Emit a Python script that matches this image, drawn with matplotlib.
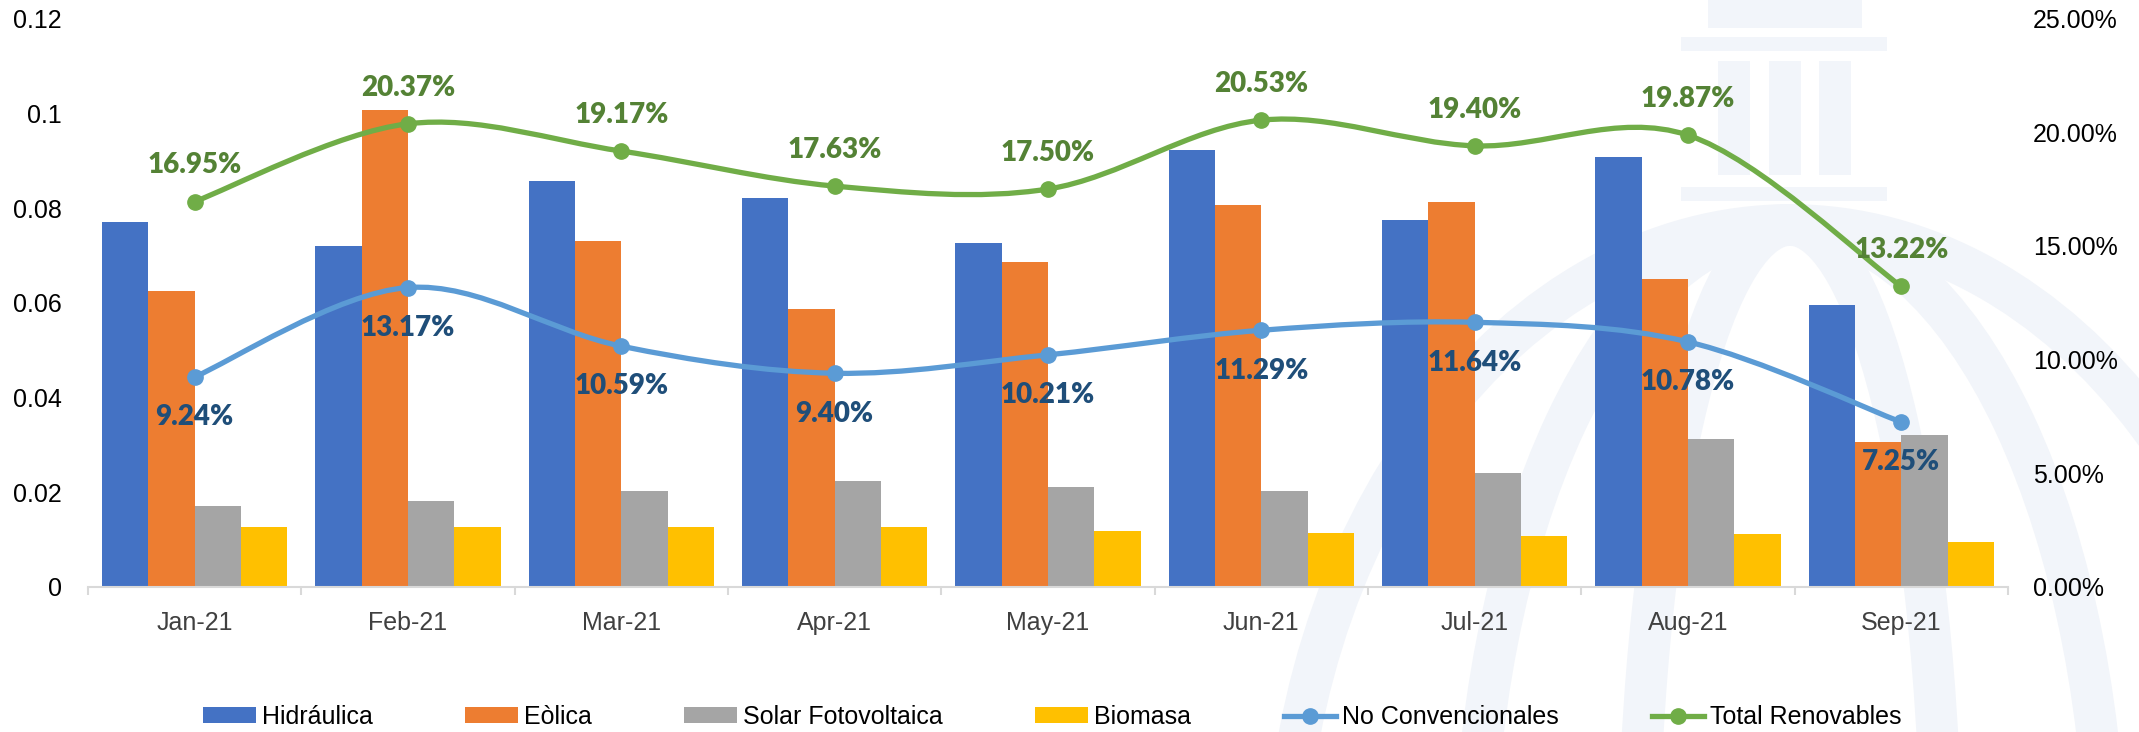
import numpy as np
import matplotlib
matplotlib.use("Agg")
import matplotlib.pyplot as plt
from matplotlib.path import Path
from matplotlib.patches import PathPatch, Rectangle, Arc
from matplotlib.lines import Line2D
from matplotlib.ticker import FixedLocator, PercentFormatter

# datos
meses = ['Jan-21', 'Feb-21', 'Mar-21', 'Apr-21', 'May-21', 'Jun-21', 'Jul-21', 'Aug-21', 'Sep-21']
hidraulica = [0.0770, 0.0719, 0.0857, 0.0821, 0.0727, 0.0923, 0.0775, 0.0908, 0.0596]
eolica = [0.0624, 0.1006, 0.0730, 0.0587, 0.0687, 0.0806, 0.0813, 0.0650, 0.0306]
solar = [0.0172, 0.0181, 0.0203, 0.0224, 0.0212, 0.0203, 0.0241, 0.0313, 0.0321]
biomasa = [0.0126, 0.0127, 0.0126, 0.0126, 0.0119, 0.0115, 0.0107, 0.0112, 0.0094]
no_conv = [9.24, 13.17, 10.59, 9.40, 10.21, 11.29, 11.64, 10.78, 7.25]
total_ren = [16.95, 20.37, 19.17, 17.63, 17.50, 20.53, 19.40, 19.87, 13.22]
left_ticks = [0, 0.02, 0.04, 0.06, 0.08, 0.1, 0.12]
left_labels = ['0', '0.02', '0.04', '0.06', '0.08', '0.1', '0.12']

W, H = 2139, 732
fig = plt.figure(figsize=(W / 100, H / 100), dpi=100)

# marca de agua (logo tenue al fondo)
bg = fig.add_axes([0, 0, 1, 1], zorder=0)
bg.set_xlim(0, W)
bg.set_ylim(H, 0)
bg.axis('off')
wm = '#F2F5FA'
bg.add_patch(Rectangle((1708, -5), 154, 33, color=wm, lw=0))
bg.add_patch(Rectangle((1681, 37), 206, 14, color=wm, lw=0))
for cx in [1718, 1769, 1819]:
    bg.add_patch(Rectangle((cx, 61), 32, 114, color=wm, lw=0))
bg.add_patch(Rectangle((1681, 187), 206, 14, color=wm, lw=0))
for w in [1012, 634, 304]:
    bg.add_patch(Arc((1790, 900), w, 1350, theta1=180, theta2=360, color=wm, lw=30))

# ejes principales
ax = fig.add_axes([88 / W, 1 - 587 / H, 1920 / W, (587 - 18.5) / H], zorder=1)
ax.patch.set_alpha(0)
x = np.arange(len(meses))
bw = 0.2175
series = [(hidraulica, '#4472C4', 'Hidráulica'), (eolica, '#ED7D31', 'Eòlica'),
          (solar, '#A5A5A5', 'Solar Fotovoltaica'), (biomasa, '#FFC000', 'Biomasa')]
handles = []
for i, (vals, col, lab) in enumerate(series):
    b = ax.bar(x + (i - 1.5) * bw, vals, bw, color=col, label=lab, zorder=2)
    handles.append(b)

ax.set_xlim(-0.5, len(meses) - 0.5)
ax.set_ylim(0, 0.12)
ax.yaxis.set_major_locator(FixedLocator(left_ticks))
ax.set_yticklabels(left_labels)
ax.set_xticks(x)
ax.set_xticklabels(meses)
ax.set_xticks(np.arange(-0.5, len(meses)), minor=True)
ax.tick_params(axis='x', which='major', length=0, pad=17, labelsize=18, labelcolor='#404040')
ax.tick_params(axis='x', which='minor', length=6, width=1.5, color='#D9D9D9')
ax.tick_params(axis='y', length=0, pad=19, labelsize=18, labelcolor='black')
for s in ['top', 'right', 'left']:
    ax.spines[s].set_visible(False)
ax.spines['bottom'].set_color('#D9D9D9')
ax.spines['bottom'].set_linewidth(1.5)
for t in ax.get_xticklabels() + ax.get_yticklabels():
    t.set_fontfamily('Liberation Sans')

# eje secundario con las lineas suavizadas
ax2 = ax.twinx()
ax2.set_ylim(0, 25)
ax2.set_yticks([0, 5, 10, 15, 20, 25])
ax2.yaxis.set_major_formatter(PercentFormatter(decimals=2))
ax2.tick_params(axis='y', length=0, pad=18, labelsize=18, labelcolor='black')
for s in ax2.spines.values():
    s.set_visible(False)
for t in ax2.get_yticklabels():
    t.set_fontfamily('Liberation Sans')


def suave(ax_, xs, ys, color):
    # curva tipo Excel (Catmull-Rom convertida a Bezier)
    p = np.column_stack([xs, ys]).astype(float)
    ext = np.vstack([p[0], p, p[-1]])
    verts = [tuple(p[0])]
    codes = [Path.MOVETO]
    for i in range(len(p) - 1):
        p0, p1, p2, p3 = ext[i], ext[i + 1], ext[i + 2], ext[i + 3]
        c1 = p1 + (p2 - p0) / 6
        c2 = p2 - (p3 - p1) / 6
        verts += [tuple(c1), tuple(c2), tuple(p2)]
        codes += [Path.CURVE4] * 3
    ax_.add_patch(PathPatch(Path(verts, codes), fill=False, edgecolor=color,
                            lw=3.8, capstyle='round', zorder=3))
    ax_.plot(xs, ys, 'o', color=color, ms=11, zorder=4)


suave(ax2, x, no_conv, '#5B9BD5')
suave(ax2, x, total_ren, '#70AD47')

for xi, v in zip(x, total_ren):
    ax2.annotate(f'{v:.2f}%', (xi, v), xytext=(0, 26), textcoords='offset points',
                 ha='center', va='center', fontsize=20, fontweight='heavy',
                 fontfamily='Lato', color='#548235', zorder=5)
for xi, v in zip(x, no_conv):
    ax2.annotate(f'{v:.2f}%', (xi, v), xytext=(0, -29), textcoords='offset points',
                 ha='center', va='center', fontsize=20, fontweight='heavy',
                 fontfamily='Lato', color='#1F4E79', zorder=5)

handles.append(Line2D([], [], color='#5B9BD5', lw=3.8, marker='o', ms=11, label='No Convencionales'))
handles.append(Line2D([], [], color='#70AD47', lw=3.8, marker='o', ms=11, label='Total Renovables'))
fig.legend(handles=handles, loc='center', bbox_to_anchor=(0.492, 1 - 717 / H), ncol=6,
           frameon=False, prop={'family': 'Liberation Sans', 'size': 18},
           handlelength=2.1, handleheight=0.6, handletextpad=0.25, columnspacing=3.7)

fig.savefig('out.png', dpi=100)
